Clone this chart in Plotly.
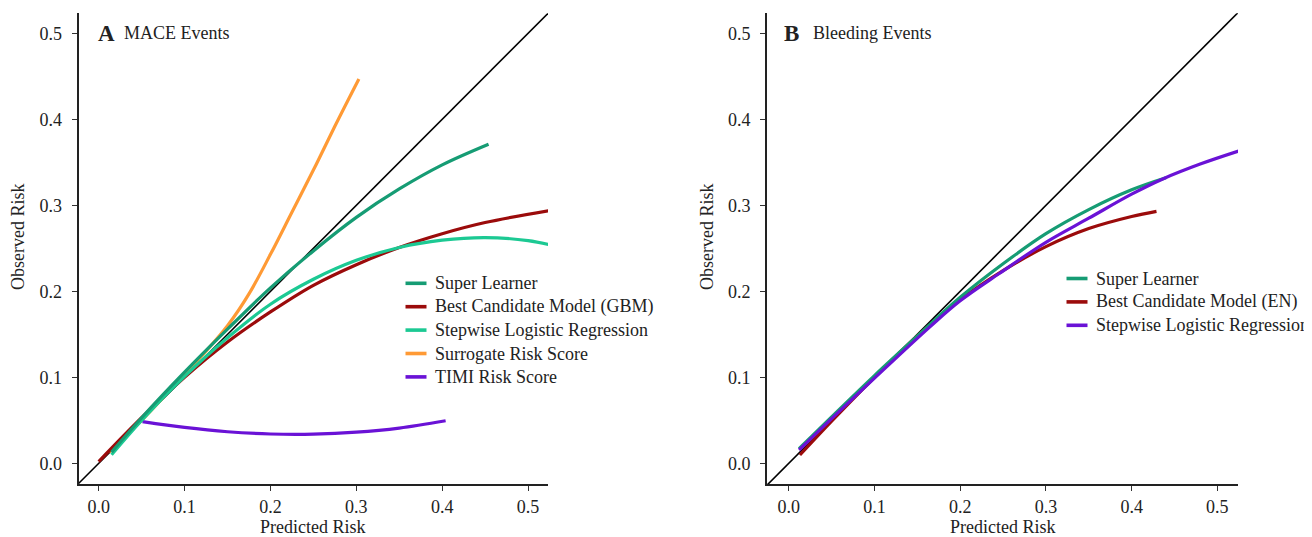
import plotly.graph_objects as go

# page body has an 8px default margin; the figure is sized so it ends at the window edge
OFF = 8
W, H = 1312 - OFF, 537 - OFF

# ---------------- Data ----------------
# Panel A: MACE events
mace_sl_x = [0.015, 0.05, 0.10, 0.15, 0.20, 0.25, 0.30, 0.35, 0.40, 0.454]
mace_sl_y = [0.013, 0.053, 0.106, 0.156, 0.204, 0.247, 0.286, 0.319, 0.347, 0.371]

mace_gbm_x = [0.0, 0.05, 0.10, 0.15, 0.20, 0.25, 0.30, 0.35, 0.40, 0.45, 0.526]
mace_gbm_y = [0.002, 0.053, 0.100, 0.141, 0.176, 0.207, 0.231, 0.251, 0.267, 0.280, 0.294]

mace_step_x = [0.015, 0.05, 0.10, 0.15, 0.20, 0.25, 0.30, 0.35, 0.40, 0.45, 0.50, 0.526]
mace_step_y = [0.010, 0.050, 0.101, 0.146, 0.185, 0.214, 0.236, 0.251, 0.2595, 0.2625, 0.259, 0.254]

mace_surr_x = [0.012, 0.03, 0.05, 0.07, 0.09, 0.12, 0.15, 0.175, 0.20, 0.225, 0.25, 0.275, 0.303]
mace_surr_y = [0.013, 0.031, 0.050, 0.071, 0.094, 0.125, 0.160, 0.197, 0.243, 0.292, 0.341, 0.392, 0.447]

mace_timi_x = [0.051, 0.10, 0.15, 0.20, 0.25, 0.30, 0.35, 0.404]
mace_timi_y = [0.0484, 0.0417, 0.0367, 0.0341, 0.0339, 0.0362, 0.0410, 0.0495]

# Panel B: Bleeding events
bleed_sl_x = [0.012, 0.05, 0.10, 0.15, 0.20, 0.25, 0.30, 0.35, 0.40, 0.44]
bleed_sl_y = [0.017, 0.054, 0.102, 0.148, 0.193, 0.232, 0.267, 0.295, 0.318, 0.332]

bleed_en_x = [0.013, 0.05, 0.10, 0.15, 0.20, 0.25, 0.30, 0.35, 0.40, 0.429]
bleed_en_y = [0.0097, 0.049, 0.100, 0.148, 0.190, 0.224, 0.252, 0.273, 0.287, 0.293]

bleed_step_x = [0.012, 0.05, 0.10, 0.165, 0.20, 0.246, 0.30, 0.35, 0.40, 0.437, 0.48, 0.526]
bleed_step_y = [0.0155, 0.052, 0.099, 0.159, 0.189, 0.221, 0.257, 0.285, 0.313, 0.331, 0.348, 0.3635]

ref_line = [-0.05, 0.55]

tick_vals = [0.0, 0.1, 0.2, 0.3, 0.4, 0.5]
tick_text = ["0.0", "0.1", "0.2", "0.3", "0.4", "0.5"]

mace_names = ["Super Learner", "Best Candidate Model (GBM)", "Stepwise Logistic Regression",
              "Surrogate Risk Score", "TIMI Risk Score"]
bleed_names = ["Super Learner", "Best Candidate Model (EN)", "Stepwise Logistic Regression"]

C_SL = "#169C74"
C_BEST = "#9B0B0B"
C_STEP = "#1CC993"
C_SURR = "#FF9A35"
C_TIMI = "#6A12D6"
C_STEP_B = "#6A12D6"

mace_colors = [C_SL, C_BEST, C_STEP, C_SURR, C_TIMI]
bleed_colors = [C_SL, C_BEST, C_STEP_B]

FONT = "Liberation Serif, Times New Roman, serif"
TXT = "#222222"

def px(x):
    return (x - OFF) / W

def py(y):
    return 1 - (y - OFF) / H

fig = go.Figure()

def add_line(x, y, color, xa, ya, width=3.2, shape="spline"):
    fig.add_trace(go.Scatter(x=x, y=y, mode="lines", xaxis=xa, yaxis=ya,
                             line=dict(color=color, width=width, shape=shape),
                             showlegend=False, hoverinfo="skip"))

# panel A
add_line(ref_line, ref_line, "#000000", "x", "y", width=1.6, shape="linear")
add_line(mace_surr_x, mace_surr_y, C_SURR, "x", "y")
add_line(mace_timi_x, mace_timi_y, C_TIMI, "x", "y")
add_line(mace_gbm_x, mace_gbm_y, C_BEST, "x", "y")
add_line(mace_step_x, mace_step_y, C_STEP, "x", "y")
add_line(mace_sl_x, mace_sl_y, C_SL, "x", "y")

# panel B
add_line(ref_line, ref_line, "#000000", "x2", "y2", width=1.6, shape="linear")
add_line(bleed_en_x, bleed_en_y, C_BEST, "x2", "y2")
add_line(bleed_sl_x, bleed_sl_y, C_SL, "x2", "y2")
add_line(bleed_step_x, bleed_step_y, C_STEP_B, "x2", "y2")

# plot areas in page pixels
A_L, A_R = 78.5, 548.0
B_L, B_R = 767.0, 1238.0
P_T, P_B = 13.3, 484.3

axis_common = dict(
    showgrid=False, zeroline=False, showline=True, linecolor="#222222", linewidth=1.8,
    ticks="outside", ticklen=5, tickwidth=1.3, tickcolor="#333333",
    tickvals=tick_vals, ticktext=tick_text,
    tickfont=dict(family=FONT, size=18, color=TXT),
)

fig.update_layout(
    width=W, height=H,
    margin=dict(l=0, r=0, t=0, b=0),
    paper_bgcolor="white", plot_bgcolor="white",
    showlegend=False,
    xaxis=dict(domain=[px(A_L), px(A_R)], range=[-0.0235, 0.5232], anchor="y", **axis_common),
    yaxis=dict(domain=[py(P_B), py(P_T)], range=[-0.0244, 0.5233], anchor="x",
               ticklabelstandoff=6, **axis_common),
    xaxis2=dict(domain=[px(B_L), px(B_R)], range=[-0.0254, 0.5241], anchor="y2", **axis_common),
    yaxis2=dict(domain=[py(P_B), py(P_T)], range=[-0.0244, 0.5233], anchor="x2",
                ticklabelstandoff=6, **axis_common),
)

ann = []
shapes = []

def text(x, y, s, size=18, xanchor="left", angle=0, bold=False):
    ann.append(dict(x=px(x), y=py(y), xref="paper", yref="paper", text=(f"<b>{s}</b>" if bold else s),
                    showarrow=False, xanchor=xanchor, yanchor="middle", textangle=angle,
                    font=dict(family=FONT, size=size, color=TXT)))

# panel labels
text(96, 33, "A", size=23, bold=True)
text(122, 33, "MACE Events", size=18)
text(782, 33, "B", size=23, bold=True)
text(811, 33, "Bleeding Events", size=18)

# axis titles
text((A_L + A_R) / 2, 527, "Predicted Risk", xanchor="center")
text((B_L + B_R) / 2, 527, "Predicted Risk", xanchor="center")
text(18, 237, "Observed Risk", xanchor="center", angle=-90)
text(707, 237, "Observed Risk", xanchor="center", angle=-90)

# legends
def legend(x0, y0, names, colors, step=23.4):
    for i, (n, c) in enumerate(zip(names, colors)):
        yy = y0 + i * step
        shapes.append(dict(type="line", xref="paper", yref="paper",
                           x0=px(x0), x1=px(x0 + 21), y0=py(yy), y1=py(yy),
                           line=dict(color=c, width=3.6)))
        text(x0 + 27, yy, n, size=18)

legend(405.5, 283.3, mace_names, mace_colors)
legend(1066.5, 278.5, bleed_names, bleed_colors)

fig.update_layout(annotations=ann, shapes=shapes)

fig.write_html("out.html")
